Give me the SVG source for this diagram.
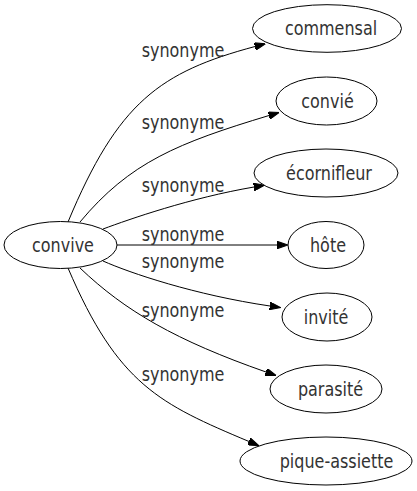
<svg xmlns="http://www.w3.org/2000/svg" width="417" height="491" viewBox="0 0 417 491">
<defs>
<style>
.node ellipse{fill:#fff;stroke:#000;stroke-width:1}
text{font-family:"DejaVu Sans",sans-serif;font-size:16px;fill:#333;text-anchor:middle}
.edges path{fill:none;stroke:#000;stroke-width:1;marker-end:url(#arrow)}
</style>
<marker id="arrow" viewBox="0 0 10 7" refX="0" refY="3.5" markerUnits="userSpaceOnUse" markerWidth="11" markerHeight="7.5" orient="auto">
<path d="M0,0 L10,3.5 L0,7 Z" fill="#000" stroke="#000" stroke-width="1"/>
</marker>
</defs>
<rect width="417" height="491" fill="#fff"/>
<g class="edges">
<path d="M68,222 C118,102 160,72 255,46.5"/>
<text transform="translate(183,57) scale(1,1.2)">synonyme</text>
<path d="M80,222 C130,162 178,143 269,115.5"/>
<text transform="translate(183,129) scale(1,1.2)">synonyme</text>
<path d="M103,229 C130,219 190,198 254,187"/>
<text transform="translate(183,192) scale(1,1.2)">synonyme</text>
<path d="M117,245 L277,245"/>
<text transform="translate(183,240.5) scale(1,1.2)">synonyme</text>
<path d="M103,261 C130,273 195,295 270,306"/>
<text transform="translate(183,267.5) scale(1,1.2)">synonyme</text>
<path d="M80,268 C125,311 176,340.5 266,372"/>
<text transform="translate(183,316.5) scale(1,1.2)">synonyme</text>
<path d="M68,268 C118,385 160,404 249,441.5"/>
<text transform="translate(183,380.5) scale(1,1.2)">synonyme</text>
</g>
<g id="node-convive" class="node"><ellipse cx="60.5" cy="245" rx="56.5" ry="23.5"/><text transform="translate(63,251.5) scale(1,1.2)">convive</text></g>
<g id="node-commensal" class="node"><ellipse cx="327" cy="28.5" rx="74.5" ry="23.8"/><text transform="translate(331,35) scale(1,1.2)">commensal</text></g>
<g id="node-convie" class="node"><ellipse cx="326.5" cy="101" rx="50.5" ry="24"/><text transform="translate(327.5,107.5) scale(1,1.2)">convié</text></g>
<g id="node-ecornifleur" class="node"><ellipse cx="326" cy="173" rx="72" ry="24"/><text transform="translate(329,179.5) scale(1,1.2)">écornifleur</text></g>
<g id="node-hote" class="node"><ellipse cx="326" cy="245" rx="38" ry="23.5"/><text transform="translate(328,251.5) scale(1,1.2)">hôte</text></g>
<g id="node-invite" class="node"><ellipse cx="327" cy="317" rx="45" ry="24"/><text transform="translate(326,323.5) scale(1,1.2)">invité</text></g>
<g id="node-parasite" class="node"><ellipse cx="326" cy="389" rx="56" ry="24"/><text transform="translate(330.5,395.5) scale(1,1.2)">parasité</text></g>
<g id="node-pique-assiette" class="node"><ellipse cx="326" cy="461" rx="86" ry="24"/><text transform="translate(336.5,467.5) scale(1,1.2)">pique-assiette</text></g>
</svg>
